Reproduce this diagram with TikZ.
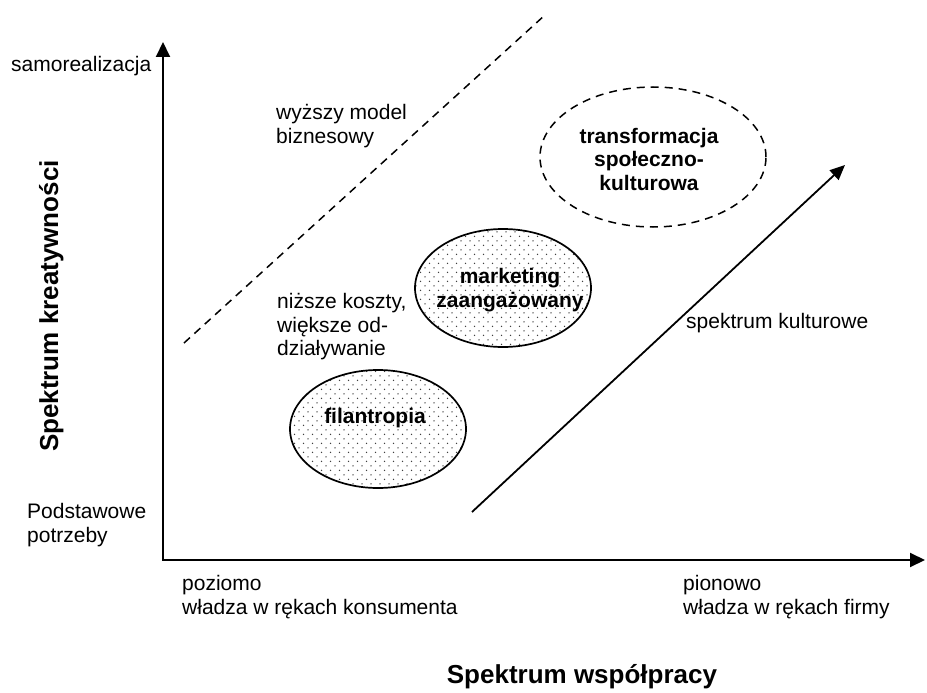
\documentclass[tikz,border=0pt]{standalone}
\usepackage{fontspec}
\setmainfont{Liberation Sans}
\usetikzlibrary{arrows.meta,shapes.geometric,patterns}

% sparse staggered dot fill for the shaded ellipses
\pgfdeclarepatternformonly{sparsedots}{\pgfqpoint{-1pt}{-1pt}}{\pgfqpoint{10pt}{10pt}}{\pgfqpoint{9pt}{9pt}}{%
  \pgfpathcircle{\pgfqpoint{2pt}{2pt}}{0.75pt}%
  \pgfpathcircle{\pgfqpoint{6.5pt}{6.5pt}}{0.75pt}%
  \pgfusepath{fill}}

\tikzset{
  lbl/.style={anchor=base west, inner sep=0pt, font=\fontsize{21}{24}\selectfont},
  title/.style={anchor=base, inner sep=0pt, font=\fontsize{26}{30}\selectfont\bfseries},
  axisline/.style={line width=2pt, {Triangle[length=15pt,width=14pt]}-{Triangle[length=15pt,width=14pt]}},
  bubble/.style={ellipse, draw, line width=1.7pt, inner sep=0pt},
  dotted bubble/.style={bubble, pattern=sparsedots, pattern color=black!75,
                 minimum width=176pt, minimum height=118pt},
  trend/.style={line width=1.8pt, -{Triangle[length=15pt,width=13pt]}},
  boundary/.style={line width=1.5pt, dash pattern=on 8pt off 6pt},
  stagetext/.style={anchor=base, inner sep=0pt, font=\fontsize{21}{24}\selectfont\bfseries},
}

\begin{document}
\begin{tikzpicture}[x=1pt,y=-1pt]
\useasboundingbox (0,0) rectangle (927,693);

% axes
\coordinate (origin) at (163,560);
\coordinate (ytip) at (163,42);
\coordinate (xtip) at (925,560);
\draw[axisline] (ytip) -- (origin) -- (xtip);

% vertical axis labels
\node[lbl] (samo) at (11,71) {samorealizacja};
\node[lbl] (podst1) at (27,518) {Podstawowe};
\node[lbl] (podst2) at (27,542) {potrzeby};
\node[title, rotate=90] (ytitle) at (58,306) {Spektrum kreatywności};

% horizontal axis labels
\node[lbl] (poz1) at (182,590) {poziomo};
\node[lbl] (poz2) at (182,614) {władza w rękach konsumenta};
\node[lbl] (pion1) at (683,590) {pionowo};
\node[lbl] (pion2) at (683,614) {władza w rękach firmy};
\node[title] (xtitle) at (582,683) {Spektrum współpracy};

% dashed boundary of the business model
\coordinate (bstart) at (184,343);
\coordinate (bend) at (545,15);
\draw[boundary] (bstart) -- (bend);
\node[lbl] (wyz1) at (276,119) {wyższy model};
\node[lbl] (wyz2) at (276,143) {biznesowy};
\node[lbl] (niz1) at (277,308) {niższe koszty,};
\node[lbl] (niz2) at (277,332) {większe od-};
\node[lbl] (niz3) at (277,355) {działywanie};

% cultural spectrum arrow
\coordinate (cstart) at (472,512);
\coordinate (cend) at (845,165);
\draw[trend] (cstart) -- (cend);
\node[lbl] (kult) at (686,328) {spektrum kulturowe};

% the three stages
\node[dotted bubble] (fil) at (378,429) {};
\node[stagetext] (filtxt) at (375,423) {filantropia};
\node[dotted bubble] (mkt) at (503,288) {};
\node[stagetext] (mkt1) at (510,283) {marketing};
\node[stagetext] (mkt2) at (510,307) {zaangażowany};
\node[bubble, boundary, minimum width=226pt, minimum height=140pt] (trans) at (653,157) {};
\node[stagetext] (trans1) at (649,143) {transformacja};
\node[stagetext] (trans2) at (649,166) {społeczno-};
\node[stagetext] (trans3) at (649,190) {kulturowa};
\end{tikzpicture}
\end{document}
